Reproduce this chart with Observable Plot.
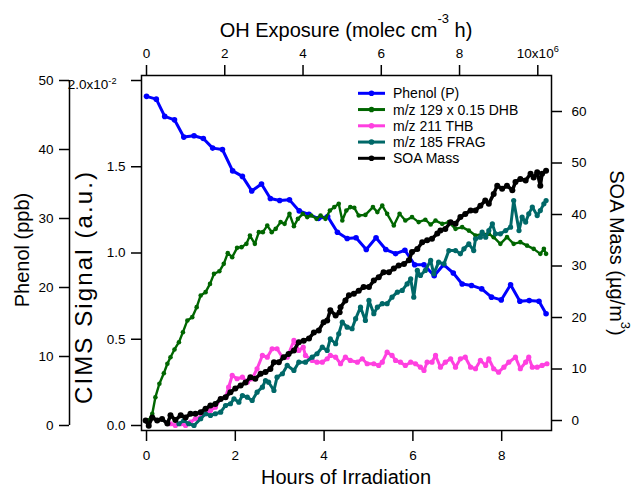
<!DOCTYPE html>
<html><head><meta charset="utf-8">
<script src="https://cdn.jsdelivr.net/npm/d3@7"></script>
<script src="https://cdn.jsdelivr.net/npm/@observablehq/plot@0.6"></script>
<style>
html,body{margin:0;padding:0;background:#fff;}
#chart{position:relative;width:633px;height:487px;font-family:"Liberation Sans",Arial,sans-serif;}
#chart svg{position:absolute;left:0;top:0;overflow:visible;}
</style></head><body><div id="chart"></div>
<script>
// ---- data: [hours of irradiation, value] ----
const phenol = [[0.00,47.7],[0.22,47.3],[0.41,44.8],[0.63,44.3],[0.84,41.8],[1.07,42.0],[1.28,41.6],[1.49,40.2],[1.71,40.0],[1.94,36.9],[2.16,36.1],[2.37,34.0],[2.59,35.0],[2.79,32.9],[3.00,32.6],[3.22,32.7],[3.44,31.1],[3.66,30.6],[3.87,30.0],[4.08,30.3],[4.30,28.0],[4.52,27.1],[4.72,27.2],[4.95,25.5],[5.17,27.2],[5.39,25.5],[5.61,24.9],[5.82,25.4],[6.04,23.3],[6.25,23.3],[6.48,21.7],[6.69,23.3],[6.91,22.1],[7.11,20.5],[7.32,20.3],[7.55,19.8],[7.77,18.6],[7.99,18.2],[8.20,20.4],[8.41,18.0],[8.62,18.1],[8.84,18.0],[9.00,16.2]];

const dhb129 = [[0.05,0.03],[0.13,0.068],[0.20,0.164],[0.29,0.242],[0.39,0.303],[0.47,0.358],[0.54,0.396],[0.63,0.441],[0.73,0.483],[0.82,0.541],[0.92,0.609],[1.03,0.628],[1.13,0.686],[1.22,0.754],[1.33,0.773],[1.43,0.821],[1.52,0.879],[1.64,0.894],[1.74,0.937],[1.83,0.999],[1.93,0.976],[2.04,1.030],[2.14,1.034],[2.25,1.053],[2.33,1.101],[2.44,1.053],[2.53,1.121],[2.62,1.121],[2.72,1.159],[2.82,1.121],[2.91,1.140],[3.02,1.179],[3.11,1.169],[3.22,1.227],[3.32,1.155],[3.41,1.198],[3.52,1.227],[3.62,1.208],[3.71,1.217],[3.83,1.198],[3.92,1.217],[4.03,1.198],[4.13,1.246],[4.23,1.266],[4.33,1.285],[4.41,1.188],[4.50,1.246],[4.59,1.266],[4.68,1.262],[4.78,1.217],[4.93,1.221],[5.10,1.266],[5.20,1.237],[5.31,1.275],[5.42,1.227],[5.57,1.159],[5.70,1.227],[5.83,1.188],[5.98,1.208],[6.13,1.179],[6.28,1.193],[6.40,1.165],[6.51,1.188],[6.66,1.169],[6.81,1.179],[6.96,1.140],[7.11,1.150],[7.26,1.130],[7.41,1.101],[7.56,1.111],[7.71,1.111],[7.82,1.092],[7.97,1.053],[8.12,1.092],[8.27,1.053],[8.42,1.063],[8.57,1.043],[8.72,1.024],[8.87,0.995],[8.95,1.024],[9.00,0.995]];

const thb211 = [[0.54,0.01],[0.65,0.00],[0.77,0.01],[0.88,0.00],[0.99,0.019],[1.10,0.039],[1.22,0.048],[1.33,0.068],[1.44,0.087],[1.55,0.106],[1.67,0.155],[1.78,0.164],[1.85,0.222],[1.93,0.290],[2.04,0.271],[2.16,0.280],[2.27,0.251],[2.38,0.271],[2.49,0.329],[2.61,0.406],[2.72,0.396],[2.83,0.445],[2.94,0.445],[3.06,0.396],[3.17,0.396],[3.32,0.493],[3.43,0.435],[3.53,0.454],[3.58,0.406],[3.73,0.377],[3.84,0.367],[3.96,0.367],[4.07,0.387],[4.14,0.406],[4.26,0.396],[4.37,0.358],[4.48,0.396],[4.59,0.377],[4.75,0.367],[4.86,0.387],[4.97,0.358],[5.12,0.358],[5.23,0.348],[5.31,0.367],[5.42,0.425],[5.53,0.406],[5.61,0.377],[5.72,0.367],[5.83,0.348],[5.95,0.367],[6.06,0.358],[6.17,0.338],[6.25,0.319],[6.32,0.367],[6.43,0.367],[6.51,0.406],[6.62,0.338],[6.73,0.367],[6.85,0.387],[6.96,0.338],[7.07,0.387],[7.18,0.396],[7.30,0.338],[7.41,0.329],[7.52,0.377],[7.64,0.348],[7.71,0.387],[7.82,0.329],[7.93,0.309],[8.05,0.338],[8.16,0.367],[8.31,0.396],[8.42,0.329],[8.54,0.367],[8.61,0.396],[8.69,0.338],[8.80,0.338],[8.91,0.348],[9.02,0.358]];

const frag185 = [[0.73,0.01],[0.84,0.029],[0.95,0.01],[1.07,0.0],[1.22,0.039],[1.33,0.068],[1.44,0.058],[1.55,0.068],[1.67,0.077],[1.78,0.116],[1.89,0.126],[1.97,0.155],[2.08,0.135],[2.16,0.174],[2.27,0.164],[2.38,0.145],[2.49,0.193],[2.61,0.222],[2.68,0.261],[2.75,0.251],[2.87,0.203],[2.94,0.280],[3.06,0.300],[3.17,0.348],[3.32,0.319],[3.43,0.367],[3.58,0.367],[3.73,0.396],[3.84,0.416],[3.96,0.454],[4.07,0.435],[4.14,0.503],[4.26,0.474],[4.33,0.532],[4.41,0.599],[4.52,0.570],[4.63,0.561],[4.71,0.619],[4.82,0.686],[4.93,0.609],[5.01,0.725],[5.12,0.648],[5.20,0.686],[5.31,0.706],[5.42,0.706],[5.53,0.744],[5.65,0.773],[5.76,0.783],[5.87,0.821],[5.95,0.850],[6.02,0.744],[6.10,0.899],[6.17,0.870],[6.28,0.899],[6.40,0.957],[6.47,0.879],[6.58,0.947],[6.70,0.937],[6.81,1.014],[6.96,1.014],[7.07,0.995],[7.15,1.024],[7.26,1.053],[7.37,1.014],[7.41,1.082],[7.52,1.092],[7.56,1.121],[7.64,1.092],[7.71,1.130],[7.79,1.169],[7.86,1.111],[7.97,1.111],[8.09,1.130],[8.20,1.150],[8.27,1.304],[8.39,1.130],[8.46,1.208],[8.54,1.179],[8.61,1.227],[8.69,1.266],[8.80,1.217],[8.87,1.246],[8.95,1.285],[9.00,1.304]];

const soaMass = [[-0.02,0.0],[0.05,-1.0],[0.13,0.6],[0.24,0.0],[0.35,0.3],[0.47,-0.6],[0.54,1.0],[0.65,0.1],[0.77,1.0],[0.88,0.6],[0.99,1.3],[1.10,1.3],[1.22,1.6],[1.33,2.3],[1.44,2.9],[1.55,3.2],[1.67,4.2],[1.78,4.5],[1.89,5.5],[2.00,6.2],[2.12,6.8],[2.23,7.4],[2.34,8.4],[2.45,8.1],[2.57,9.1],[2.68,9.4],[2.79,10.0],[2.87,11.3],[2.98,11.3],[3.09,12.3],[3.20,12.9],[3.32,13.6],[3.43,15.2],[3.54,15.5],[3.66,15.9],[3.77,17.1],[3.88,17.5],[3.99,19.1],[4.07,19.4],[4.14,21.4],[4.26,20.4],[4.35,21.0],[4.37,22.0],[4.48,23.3],[4.56,24.3],[4.67,24.6],[4.78,25.2],[4.89,25.9],[5.01,25.9],[5.12,27.2],[5.23,27.8],[5.34,28.8],[5.46,28.8],[5.57,29.5],[5.68,30.1],[5.80,30.4],[5.91,31.1],[5.98,32.7],[6.10,33.3],[6.21,34.6],[6.32,35.0],[6.43,35.3],[6.55,36.3],[6.62,36.9],[6.73,37.2],[6.85,38.5],[6.96,38.2],[7.07,39.5],[7.18,40.1],[7.30,40.8],[7.41,40.8],[7.52,41.7],[7.63,42.7],[7.71,42.1],[7.82,44.0],[7.90,45.6],[8.01,45.0],[8.12,45.6],[8.24,44.7],[8.31,46.3],[8.42,46.9],[8.54,46.6],[8.65,47.9],[8.72,47.2],[8.80,48.2],[8.87,45.6],[8.91,47.9],[9.00,48.5]];

const hoursTicks = [0, 2, 4, 6, 8];
const ohTicks = [0, 2, 4, 6, 8, 10];
const cimsTicks = [0, 0.5, 1.0, 1.5, 2.0];
const phenolTicks = [0, 10, 20, 30, 40, 50];
const soaTicks = [0, 10, 20, 30, 40, 50, 60];

const legendNames = ["Phenol (P)", "m/z 129 x 0.15 DHB", "m/z 211 THB", "m/z 185 FRAG", "SOA Mass"];
const legendColors = ["#0000ff", "#006600", "#ff40e0", "#006868", "#000000"];

// ---- layout ----
const W = 633, H = 487, MT = 75, MB = 57, ML = 141, MR = 82;
const xDomain = [-0.113, 9.122];
const ohDomain = [-0.128, 10.35];
const cimsDomain = [-0.029, 2.029];
const phenolDomain = [-0.725, 50.725];
const soaDomain = [-1.94, 66.99];
const FONT = '"Liberation Sans", Arial, sans-serif';
const STYLE = `background:transparent;overflow:visible;font-family:${FONT};font-size:13.5px;color:black;`;

const X = d => d[0], Y = d => d[1];
function traceMarks(data, color, sw, r) {
  return [
    Plot.line(data, {x: X, y: Y, stroke: color, strokeWidth: sw, strokeLinejoin: "round", strokeLinecap: "round"}),
    Plot.dot(data, {x: X, y: Y, r: r, fill: color})
  ];
}
function layer(opts) {
  return Plot.plot({
    width: W, height: H, marginTop: MT, marginBottom: MB,
    marginLeft: opts.ml ?? ML, marginRight: opts.mr ?? MR,
    x: {domain: opts.x ?? xDomain, axis: null},
    y: {domain: opts.y, axis: null},
    style: STYLE,
    marks: opts.marks
  });
}
function supify(svg) {
  d3.select(svg).selectAll("text").each(function() {
    const t = this.textContent;
    if (t.includes("^")) {
      const [b, s] = t.split("^");
      const sel = d3.select(this);
      sel.text(b);
      sel.append("tspan").attr("dy", "-0.55em").attr("font-size", "0.68em").text(s);
      if (b.startsWith("2.0")) {
        this.setAttribute("transform", (this.getAttribute("transform") || "") + " translate(-9,4)");
      }
    }
  });
}

const chart = document.getElementById("chart");

// Phenol trace (left outer axis scale)
chart.appendChild(layer({y: phenolDomain, marks: [traceMarks(phenol, legendColors[0], 3, 2.8)]}));

// CIMS traces + frame + bottom/left axes
const cimsSvg = layer({
  y: cimsDomain,
  marks: [
    traceMarks(dhb129, legendColors[1], 2.4, 2.3),
    traceMarks(thb211, legendColors[2], 3, 2.6),
    traceMarks(frag185, legendColors[3], 3, 2.6),
    Plot.frame({stroke: "black", strokeWidth: 1.5}),
    Plot.axisX({anchor: "bottom", ticks: hoursTicks, tickSize: 11, tickPadding: 9, strokeWidth: 1.5, label: null}),
    Plot.axisY({anchor: "left", ticks: cimsTicks, tickSize: 10, tickPadding: 6, strokeWidth: 1.5, label: null,
      tickFormat: d => d === 2 ? "2.0x10^-2" : d.toFixed(1)})
  ]
});
supify(cimsSvg);
chart.appendChild(cimsSvg);

// SOA trace + right axis
chart.appendChild(layer({
  y: soaDomain,
  marks: [
    traceMarks(soaMass, legendColors[4], 3.5, 3),
    Plot.axisY({anchor: "right", ticks: soaTicks, tickSize: 10, tickPadding: 10, strokeWidth: 1.5, label: null})
  ]
}));

// OH exposure top axis
const topSvg = layer({
  x: ohDomain, y: cimsDomain,
  marks: [Plot.axisX({anchor: "top", ticks: ohTicks, tickSize: 11, tickPadding: 7, strokeWidth: 1.5, label: null,
    tickFormat: d => d === 10 ? "10x10^6" : String(d)})]
});
supify(topSvg);
chart.appendChild(topSvg);

// Phenol outer axis
chart.appendChild(layer({
  x: [0, 1], ml: 69, mr: W - 70, y: phenolDomain,
  marks: [
    Plot.ruleX([0], {x: d => d, y1: d3.min(phenolTicks), y2: d3.max(phenolTicks), strokeWidth: 1.5}),
    Plot.axisY({anchor: "left", ticks: phenolTicks, tickSize: 10, tickPadding: 6, strokeWidth: 1.5, label: null})
  ]
}));

// titles and legend
const ann = d3.create("svg").attr("width", W).attr("height", H)
  .style("font-family", FONT).style("overflow", "visible");
const t1 = ann.append("text").attr("x", 346).attr("y", 36.5).attr("text-anchor", "middle").attr("font-size", 20);
t1.append("tspan").text("OH Exposure (molec cm");
t1.append("tspan").attr("dy", -14).attr("font-size", 13).text("-3");
t1.append("tspan").attr("dy", 14).text(" h)");
ann.append("text").attr("x", 346).attr("y", 484).attr("text-anchor", "middle").attr("font-size", 20).text("Hours of Irradiation");
ann.append("text").attr("transform", "translate(28.5,250) rotate(-90)").attr("text-anchor", "middle").attr("font-size", 20).text("Phenol (ppb)");
ann.append("text").attr("transform", "translate(92,288) rotate(-90)").attr("text-anchor", "middle").attr("font-size", 24)
  .attr("textLength", 232).attr("lengthAdjust", "spacing").text("CIMS Signal (a.u.)");
const t2 = ann.append("text").attr("transform", "translate(610,253) rotate(90)").attr("text-anchor", "middle").attr("font-size", 20);
t2.append("tspan").text("SOA Mass (\u00b5g/m");
t2.append("tspan").attr("dy", -11).attr("font-size", 13).text("3");
t2.append("tspan").attr("dy", 11).text(")");

const lg = ann.append("g");
legendNames.forEach((name, i) => {
  const y = 93.3 + 16.25 * i;
  lg.append("line").attr("x1", 358).attr("x2", 385).attr("y1", y).attr("y2", y)
    .attr("stroke", legendColors[i]).attr("stroke-width", 3);
  lg.append("circle").attr("cx", 371.5).attr("cy", y).attr("r", 2.8).attr("fill", legendColors[i]);
  lg.append("text").attr("x", 393).attr("y", y + 5).attr("font-size", 14).text(name);
});
chart.appendChild(ann.node());
</script></body></html>
